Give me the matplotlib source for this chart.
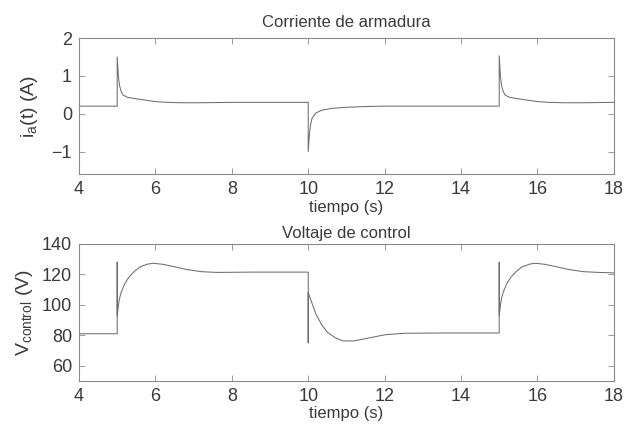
import numpy as np
import matplotlib
matplotlib.use("Agg")
import matplotlib.pyplot as plt

plt.rcParams["font.family"] = ["Liberation Sans", "DejaVu Sans"]
plt.rcParams["mathtext.default"] = "regular"

# Corriente de armadura
t_corr = [4.0, 5.0, 5.0, 5.03, 5.06, 5.1, 5.15, 5.25, 5.4, 5.6, 5.8, 6.0, 6.3, 6.7, 7.2, 8.0, 9.0, 10.0,
          10.0, 10.03, 10.06, 10.1, 10.2, 10.35, 10.6, 11.0, 11.5, 12.0, 13.0, 14.0, 15.0,
          15.0, 15.03, 15.06, 15.1, 15.15, 15.25, 15.4, 15.6, 15.8, 16.0, 16.3, 16.7, 17.2, 18.0]
i_a = [0.2, 0.2, 1.5, 1.0, 0.75, 0.6, 0.5, 0.44, 0.41, 0.38, 0.35, 0.32, 0.3, 0.29, 0.29, 0.3, 0.3, 0.3,
       -1.0, -0.55, -0.3, -0.12, 0.02, 0.09, 0.14, 0.17, 0.19, 0.2, 0.2, 0.2, 0.2,
       1.53, 1.0, 0.75, 0.6, 0.5, 0.44, 0.41, 0.38, 0.35, 0.32, 0.3, 0.29, 0.29, 0.3]

# Voltaje de control
t_volt = [4.0, 5.0, 5.0, 5.0, 5.05, 5.1, 5.2, 5.3, 5.45, 5.6, 5.8, 5.95, 6.2, 6.5, 6.8, 7.2, 7.6, 8.5, 10.0,
          10.0, 10.0, 10.1, 10.2, 10.35, 10.5, 10.7, 10.9, 11.2, 11.6, 12.0, 12.5, 13.5, 15.0,
          15.0, 15.0, 15.05, 15.1, 15.2, 15.3, 15.45, 15.6, 15.8, 15.95, 16.2, 16.5, 16.8, 17.2, 17.6, 18.0]
v_control = [81, 81, 128, 93, 103, 108, 114, 118, 122, 125, 126.8, 127.3, 126.6, 125, 123.3, 121.8, 121.3, 121.5, 121.5,
             75, 108, 101, 94, 87, 82, 78.5, 76.3, 76.3, 78.3, 80.3, 81.3, 81.5, 81.5,
             128, 93, 103, 108, 114, 118, 122, 125, 126.8, 127.3, 126.6, 125, 123.3, 121.8, 121.3, 121]

LINE_COLOR = "#6e6e6e"
SPINE_COLOR = "#8a8a8a"
TEXT_COLOR = "#3a3a3a"

fig = plt.figure(figsize=(6.27, 4.28), dpi=100)
ax1 = fig.add_axes([0.126, 0.593, 0.853, 0.318])
ax2 = fig.add_axes([0.126, 0.110, 0.853, 0.320])

for ax in (ax1, ax2):
    ax.set_xlim(4, 18)
    ax.set_xticks([4, 6, 8, 10, 12, 14, 16, 18])
    ax.tick_params(direction="in", top=True, right=True, length=4, width=0.6,
                   color=SPINE_COLOR, labelsize=13, labelcolor=TEXT_COLOR, pad=5)
    for s in ax.spines.values():
        s.set_color(SPINE_COLOR)
        s.set_linewidth(0.8)
    ax.set_xlabel("tiempo (s)", fontsize=12, color=TEXT_COLOR, labelpad=1)

ax1.plot(t_corr, i_a, color=LINE_COLOR, linewidth=0.75)
ax1.set_ylim(-1.6, 2)
ax1.set_yticks([-1, 0, 1, 2])
ax1.set_yticklabels(["\u22121", "0", "1", "2"])
ax1.set_ylabel("i$_a$(t) (A)", fontsize=14, color=TEXT_COLOR, labelpad=8)
ax1.set_title("Corriente de armadura", fontsize=12, color=TEXT_COLOR, pad=8)

ax2.plot(t_volt, v_control, color=LINE_COLOR, linewidth=0.75)
ax2.set_ylim(50, 140)
ax2.set_yticks([60, 80, 100, 120, 140])
ax2.set_ylabel("V$_{control}$ (V)", fontsize=14, color=TEXT_COLOR, labelpad=5)
ax2.set_title("Voltaje de control", fontsize=12, color=TEXT_COLOR, pad=4)

fig.savefig("out.png", dpi=100, facecolor="white")
